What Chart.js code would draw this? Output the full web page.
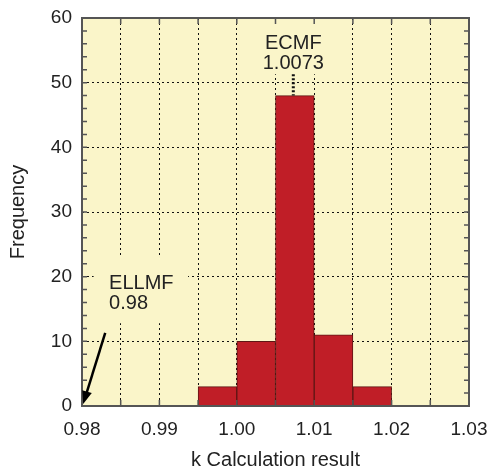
<!DOCTYPE html>
<html>
<head>
<meta charset="utf-8">
<script src="https://cdn.jsdelivr.net/npm/chart.js@4/dist/chart.umd.min.js"></script>
<style>
  html, body { margin: 0; padding: 0; background: #ffffff; }
  #wrap { width: 490px; height: 470px; position: relative; }
</style>
</head>
<body>
<div id="wrap"><canvas id="c" width="490" height="470"></canvas></div>
<script>
// ---- data ----
const binCenters = [0.9975, 1.0025, 1.0075, 1.0125, 1.0175];
const frequency  = [3, 10, 48, 11, 3];
const xAxisTitle = 'k Calculation result';
const yAxisTitle = 'Frequency';
const ecmfLabel  = ['ECMF', '1.0073'];
const ecmfValue  = 1.0073;
const ellmfLabel = ['ELLMF', '0.98'];
const ellmfValue = 0.98;

const FONT = "'Liberation Sans', Arial, Helvetica, sans-serif";
const BG = '#faf5c9';
const TEXT = '#222222';

Chart.defaults.font.family = FONT;
Chart.defaults.color = TEXT;

const decor = {
  id: 'decor',
  beforeDraw(chart) {
    const {ctx, chartArea: a} = chart;
    ctx.save();
    ctx.fillStyle = BG;
    ctx.fillRect(a.left, a.top, a.right - a.left, a.bottom - a.top);
    ctx.restore();
  },
  afterDatasetsDraw(chart) {
    const {ctx, chartArea: a} = chart;
    const xs = chart.scales.x, ys = chart.scales.y;
    const X = v => xs.getPixelForValue(v), Y = v => ys.getPixelForValue(v);
    ctx.save();
    // label backgrounds (hide grid under labels)
    ctx.fillStyle = BG;
    const ex = X(ecmfValue);
    ctx.fillRect(ex - 38, a.top + 1, 76, Y(51.3) - a.top - 1);
    ctx.fillRect(X(0.9815), Y(23), X(0.9937) - X(0.9815), Y(12.8) - Y(23));

    // ECMF marker
    ctx.strokeStyle = '#111';
    ctx.lineWidth = 3;
    ctx.setLineDash([2, 2]);
    ctx.beginPath();
    ctx.moveTo(ex, Y(51.3));
    ctx.lineTo(ex, Y(Math.max(...frequency)));
    ctx.stroke();
    ctx.setLineDash([]);

    // inner tick marks
    ctx.strokeStyle = '#555';
    ctx.lineWidth = 1.5;
    ctx.beginPath();
    xs.ticks.forEach(t => {
      const px = X(t.value);
      ctx.moveTo(px, a.bottom); ctx.lineTo(px, a.bottom - 6);
      ctx.moveTo(px, a.top); ctx.lineTo(px, a.top + 6);
    });
    ys.ticks.forEach(t => {
      const py = Y(t.value);
      ctx.moveTo(a.left, py); ctx.lineTo(a.left + 5, py);
      ctx.moveTo(a.right, py); ctx.lineTo(a.right - 5, py);
    });
    ctx.stroke();

    // frame
    ctx.strokeStyle = '#555';
    ctx.lineWidth = 2;
    ctx.strokeRect(a.left, a.top, a.right - a.left, a.bottom - a.top);

    // labels
    ctx.fillStyle = TEXT;
    ctx.font = '20px ' + FONT;
    ctx.textAlign = 'center';
    ctx.textBaseline = 'middle';
    ctx.fillText(ecmfLabel[0], ex, Y(56.1));
    ctx.fillText(ecmfLabel[1], ex, Y(53.0));
    ctx.textAlign = 'left';
    ctx.fillText(ellmfLabel[0], X(0.9835), Y(19.0));
    ctx.fillText(ellmfLabel[1], X(0.9835), Y(15.9));

    // ELLMF arrow
    const x0 = X(0.9830), y0 = Y(11.3), x1 = X(ellmfValue + 0.00015), y1 = Y(0.3);
    const ang = Math.atan2(y1 - y0, x1 - x0);
    ctx.strokeStyle = '#000';
    ctx.fillStyle = '#000';
    ctx.lineWidth = 2.5;
    ctx.beginPath();
    ctx.moveTo(x0, y0);
    ctx.lineTo(x1 - 8 * Math.cos(ang), y1 - 8 * Math.sin(ang));
    ctx.stroke();
    ctx.beginPath();
    ctx.moveTo(x1, y1);
    ctx.lineTo(x1 - 13 * Math.cos(ang) + 5 * Math.sin(ang), y1 - 13 * Math.sin(ang) - 5 * Math.cos(ang));
    ctx.lineTo(x1 - 13 * Math.cos(ang) - 5 * Math.sin(ang), y1 - 13 * Math.sin(ang) + 5 * Math.cos(ang));
    ctx.closePath();
    ctx.fill();
    ctx.restore();
  }
};

new Chart(document.getElementById('c'), {
  type: 'bar',
  data: {
    datasets: [{
      data: binCenters.map((x, i) => ({x, y: frequency[i]})),
      backgroundColor: '#c01e27',
      borderColor: '#5e1614',
      borderWidth: 1,
      borderSkipped: 'start',
      barPercentage: 1,
      categoryPercentage: 1
    }]
  },
  options: {
    responsive: false,
    animation: false,
    events: [],
    layout: { padding: { top: 18, right: 21, left: 0, bottom: 0 } },
    plugins: { legend: { display: false }, tooltip: { enabled: false } },
    scales: {
      x: {
        type: 'linear',
        min: 0.98, max: 1.03,
        offset: false,
        afterFit: s => { s.height = 64; s.paddingLeft = 0; s.paddingRight = 0; },
        border: { display: false, dash: [2, 3] },
        grid: {
          offset: false,
          drawTicks: false,
          lineWidth: 1,
          color: ctx => (ctx.index === 0 || ctx.index === 10) ? 'rgba(0,0,0,0)' : '#111'
        },
        ticks: {
          stepSize: 0.005,
          autoSkip: false,
          maxRotation: 0,
          padding: 12,
          font: { size: 19 },
          callback: v => {
            const m = Math.round(v * 1000);
            return m % 10 === 0 ? (m / 1000).toFixed(2) : '';
          }
        },
        title: {
          display: true, text: xAxisTitle,
          font: { size: 20, lineHeight: 1 },
          padding: { top: 0, bottom: 0 }
        }
      },
      y: {
        min: 0, max: 60,
        afterFit: s => { s.width = 82; s.paddingTop = 0; s.paddingBottom = 0; },
        border: { display: false, dash: [2, 3] },
        grid: {
          drawTicks: false,
          lineWidth: 1,
          color: ctx => {
            const v = ctx.tick ? ctx.tick.value : 0;
            return (v % 10 === 0 && v !== 0 && v !== 60) ? '#111' : 'rgba(0,0,0,0)';
          }
        },
        ticks: {
          stepSize: 2,
          autoSkip: false,
          padding: 10,
          font: { size: 19 },
          callback: v => (v % 10 === 0 ? String(v) : '')
        },
        title: {
          display: true, text: yAxisTitle,
          font: { size: 20, lineHeight: 1 },
          padding: { top: 8, bottom: 0 }
        }
      }
    }
  },
  plugins: [decor]
});
</script>
</body>
</html>
